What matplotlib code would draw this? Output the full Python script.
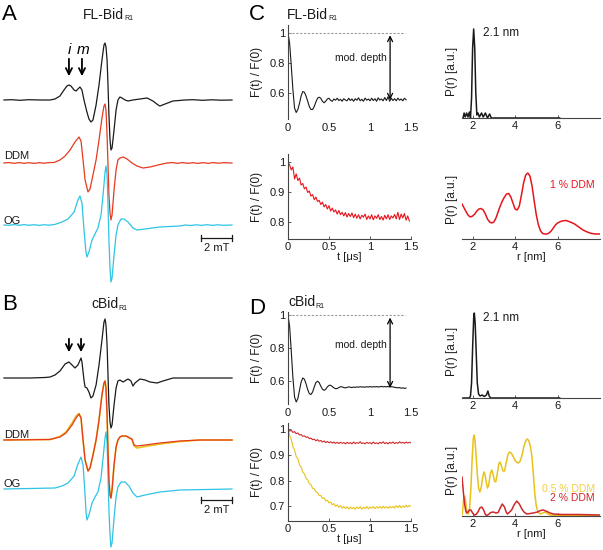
import numpy as np
import matplotlib
matplotlib.use('Agg')
import matplotlib.pyplot as plt

plt.rcParams['font.family'] = ['Liberation Sans', 'DejaVu Sans']

# ---------------- data: cw-EPR spectra (field in mT, amplitude a.u.) ----------------
fl_black = [(0.00,0),(0.50,0.3),(1.03,-0.3),(1.60,0.3),(2.32,0),(2.97,0),(3.29,1),(3.61,4),(3.87,10),
            (4.06,14),(4.19,15),(4.32,14),(4.52,10),(4.65,9),(4.77,11),(4.90,13),(5.03,10),(5.16,0),
            (5.35,-12),(5.48,-19),(5.61,-22),(5.74,-20),(5.94,-5),(6.13,15),(6.32,40),(6.45,55),
            (6.52,57),(6.58,53),(6.65,40),(6.71,15),(6.77,-15),(6.84,-40),(6.90,-50),(6.97,-48),
            (7.10,-30),(7.23,-10),(7.35,0),(7.48,3),(7.61,2),(7.81,0),(8.00,-1),(8.32,0),(8.77,1),
            (9.23,2),(9.61,-1),(9.94,-5),(10.06,-6),(10.39,-4),(10.90,-1),(11.68,0),(12.20,0.3),
            (12.80,-0.3),(13.40,0.2),(14.00,-0.2),(14.71,0)]
fl_ddm = [(0.00,0),(0.32,0.4),(0.65,-0.3),(0.97,0.4),(1.29,-0.3),(1.61,0.3),(1.94,-0.4),(2.26,0.3),
          (2.58,-0.2),(2.90,0.4),(3.23,0.5),(3.61,3),(3.94,7),(4.26,13),(4.58,21),(4.84,26),(4.97,22),
          (5.10,3),(5.23,-17),(5.42,-29),(5.55,-26),(5.74,-12),(5.94,3),(6.13,23),(6.32,45),(6.45,57),
          (6.52,59),(6.58,53),(6.65,28),(6.71,-2),(6.77,-32),(6.84,-50),(6.90,-57),(6.97,-52),
          (7.10,-27),(7.23,-7),(7.35,3),(7.48,5),(7.68,6),(7.94,4),(8.26,0),(8.58,-3),(8.97,-5),
          (9.42,-4),(9.94,-2),(10.52,0),(10.85,0.4),(11.20,-0.3),(11.50,0.4),(11.85,-0.3),
          (12.20,0.3),(12.50,-0.4),(12.85,0.3),(13.20,-0.3),(13.50,0.4),(13.85,-0.2),(14.20,0.3),(14.71,0)]
fl_og = [(0.00,0),(0.32,-0.3),(0.65,0.4),(0.97,-0.3),(1.29,0.4),(1.61,-0.3),(1.94,0.3),(2.26,-0.4),
         (2.58,0.3),(2.90,-0.2),(3.29,0.6),(3.74,3),(4.13,6),(4.52,13),(4.77,25),(4.90,29),(5.03,22),
         (5.16,-5),(5.29,-27),(5.35,-32),(5.48,-27),(5.68,-15),(5.87,-9),(6.06,-3),(6.26,10),(6.39,30),
         (6.52,53),(6.58,59),(6.65,50),(6.71,20),(6.77,-15),(6.84,-43),(6.90,-57),(6.97,-53),
         (7.10,-30),(7.23,-10),(7.35,0),(7.55,6),(7.74,6),(8.00,3),(8.32,-3),(8.58,-5),(9.10,-4),
         (10.06,-2),(10.70,-1.5),(11.35,-1),(11.70,0),(12.05,-0.5),(12.40,0.2),(12.75,-0.4),
         (13.10,0.3),(13.45,-0.4),(13.80,0.2),(14.15,-0.3),(14.71,0)]
cb_black = [(0.00,0),(1.68,0),(2.65,0.5),(2.97,1),(3.29,3),(3.61,7),(3.94,14),(4.19,16),(4.39,13),
            (4.58,10),(4.77,13),(4.97,20),(5.03,16),(5.16,-2),(5.23,-9),(5.35,-10),(5.48,-14),
            (5.61,-20),(5.74,-18),(5.94,-7),(6.13,13),(6.32,38),(6.45,56),(6.52,59),(6.58,53),
            (6.65,33),(6.71,3),(6.77,-27),(6.84,-44),(6.90,-50),(6.97,-47),(7.10,-27),(7.23,-10),
            (7.35,-3),(7.48,-2),(7.68,-4),(8.00,-1),(8.19,-3),(8.32,-8),(8.45,-5),(8.77,-1),
            (9.10,-2),(9.42,-4),(9.87,-5),(10.26,-3),(10.90,0),(14.71,0)]
cb_ddm2 = [(0.00,0),(2.97,0.5),(3.61,3),(4.00,7),(4.39,15),(4.65,22),(4.84,26),(4.97,22),(5.10,0),
           (5.23,-20),(5.42,-31),(5.55,-28),(5.74,-15),(5.94,0),(6.13,20),(6.32,45),(6.45,57),
           (6.52,59),(6.58,52),(6.65,25),(6.71,-10),(6.77,-40),(6.84,-55),(6.90,-58),(6.97,-50),
           (7.10,-25),(7.23,-7),(7.35,0),(7.48,3),(7.61,4),(7.87,4),(8.13,2),(8.26,1),(8.39,-5),
           (8.58,-6),(9.10,-5),(10.06,-3),(11.35,-1),(12.65,0),(14.71,0)]
cb_ddm05 = [(0.00,0),(2.97,0.5),(3.61,3.5),(4.00,8),(4.39,17),(4.65,24),(4.84,26.5),(4.97,22),(5.10,0),
            (5.23,-20),(5.42,-31),(5.55,-28),(5.74,-15),(5.94,0),(6.13,20),(6.32,45),(6.45,57),
            (6.52,59),(6.58,52),(6.65,25),(6.71,-10),(6.77,-40),(6.84,-55),(6.90,-58),(6.97,-50),
            (7.10,-25),(7.23,-7),(7.35,0),(7.48,3),(7.61,4),(7.87,4),(8.13,1.5),(8.26,0),(8.39,-6),
            (8.58,-8),(9.10,-6.5),(10.06,-4),(11.35,-1.5),(12.65,0),(14.71,0)]
cb_og = [(0.00,0),(3.29,1),(3.74,3),(4.13,6),(4.52,13),(4.77,25),(4.97,32),(5.10,24),(5.23,-6),
         (5.29,-23),(5.35,-31),(5.48,-26),(5.68,-14),(5.87,-8),(6.06,-3),(6.26,11),(6.39,31),
         (6.52,51),(6.58,57),(6.65,47),(6.71,14),(6.77,-21),(6.84,-46),(6.90,-58),(6.97,-54),
         (7.10,-29),(7.23,-8),(7.35,2),(7.55,7),(7.81,7),(8.06,3),(8.32,-4),(8.58,-8),(9.10,-6),
         (10.06,-3),(11.35,-1),(14.71,0)]

# ---------------- data: DEER time traces F(t)/F(0) ----------------
t_fl_top = np.round(np.arange(0, 1.441, 0.02), 2)
F_fl_top = [1.000,0.930,0.780,0.620,0.500,0.470,0.490,0.530,0.580,0.610,
            0.605,0.580,0.545,0.510,0.490,0.490,0.510,0.540,0.565,0.572,
            0.565,0.545,0.535,0.545,0.560,0.565,0.550,0.545,0.560,0.552,
            0.565,0.550,0.558,0.545,0.562,0.553,0.548,0.565,0.550,0.560,
            0.545,0.562,0.552,0.568,0.548,0.558,0.545,0.566,0.552,0.560,
            0.548,0.565,0.550,0.562,0.545,0.568,0.553,0.560,0.548,0.570,
            0.550,0.575,0.545,0.565,0.550,0.562,0.548,0.566,0.552,0.560,
            0.548,0.565,0.555]
t_fl_ddm = np.round(np.arange(0, 1.481, 0.02), 2)
F_fl_ddm = [1.000,0.992,0.975,0.985,0.945,0.962,0.940,0.948,0.925,0.930,
            0.912,0.918,0.900,0.905,0.888,0.893,0.876,0.885,0.870,0.874,
            0.860,0.868,0.852,0.860,0.845,0.856,0.838,0.848,0.835,0.842,
            0.828,0.840,0.826,0.834,0.822,0.833,0.818,0.830,0.820,0.832,
            0.816,0.828,0.814,0.826,0.812,0.824,0.818,0.828,0.810,0.822,
            0.812,0.826,0.809,0.822,0.814,0.826,0.810,0.820,0.808,0.824,
            0.812,0.826,0.810,0.822,0.815,0.827,0.812,0.834,0.810,0.828,
            0.815,0.830,0.808,0.822,0.805]
t_cb_top = np.round(np.arange(0, 1.441, 0.02), 2)
F_cb_top = [1.000,0.930,0.780,0.620,0.505,0.475,0.495,0.545,0.595,0.620,
            0.612,0.585,0.550,0.525,0.520,0.535,0.565,0.592,0.600,0.592,
            0.570,0.552,0.545,0.552,0.566,0.575,0.576,0.568,0.560,0.555,
            0.556,0.562,0.567,0.566,0.562,0.560,0.563,0.566,0.564,0.562,
            0.565,0.563,0.566,0.564,0.567,0.565,0.566,0.564,0.567,0.565,
            0.568,0.565,0.567,0.566,0.568,0.565,0.567,0.569,0.566,0.568,
            0.566,0.569,0.565,0.567,0.566,0.563,0.562,0.560,0.562,0.558,
            0.560,0.557,0.559]
t_cb_ddm = np.round(np.arange(0, 1.501, 0.02), 2)
F_cb_ddm2 = [0.995,0.990,0.993,0.985,0.988,0.980,0.983,0.975,0.977,0.970,
             0.972,0.966,0.968,0.961,0.963,0.957,0.959,0.953,0.957,0.951,
             0.954,0.948,0.952,0.946,0.950,0.945,0.949,0.944,0.948,0.943,
             0.947,0.942,0.947,0.943,0.946,0.941,0.947,0.942,0.946,0.941,
             0.948,0.942,0.946,0.943,0.949,0.942,0.945,0.941,0.947,0.943,
             0.946,0.941,0.948,0.942,0.945,0.941,0.947,0.943,0.949,0.942,
             0.946,0.941,0.947,0.943,0.948,0.942,0.946,0.943,0.949,0.944,
             0.947,0.943,0.948,0.944,0.947,0.945]
F_cb_ddm05 = [1.000,0.972,0.958,0.930,0.918,0.892,0.884,0.860,0.852,0.832,
              0.826,0.808,0.803,0.788,0.784,0.770,0.768,0.756,0.754,0.742,
              0.743,0.731,0.733,0.722,0.724,0.714,0.717,0.707,0.711,0.701,
              0.706,0.697,0.703,0.694,0.700,0.692,0.699,0.690,0.698,0.691,
              0.697,0.689,0.698,0.692,0.699,0.690,0.697,0.692,0.700,0.691,
              0.698,0.693,0.700,0.692,0.699,0.694,0.700,0.693,0.701,0.694,
              0.699,0.693,0.701,0.695,0.700,0.694,0.703,0.696,0.704,0.695,
              0.702,0.697,0.705,0.698,0.704,0.701]

# ---------------- data: distance distributions P(r) (r in nm, a.u.) ----------------
P_fl_top = [(1.55,0),(1.60,5),(1.65,1),(1.72,5),(1.78,1),(1.85,6),(1.90,0),(1.95,20),(2.00,70),
            (2.05,89),(2.10,70),(2.15,25),(2.20,3),(2.25,5),(2.32,1),(2.42,5),(2.50,1),(2.60,5),
            (2.70,0),(2.80,4),(2.88,0),(3.00,0),(6.10,0)]
P_fl_ddm = [(1.5,35),(1.6,31),(1.7,27),(1.8,23.5),(1.9,22),(2.0,23),(2.1,25),(2.2,28),(2.3,30),
            (2.4,30.5),(2.5,29),(2.6,25),(2.7,20),(2.8,17),(2.9,16),(3.0,17),(3.1,21),(3.2,27),
            (3.3,33),(3.4,38),(3.5,42),(3.6,45),(3.7,45.5),(3.8,42),(3.9,36),(4.0,30),(4.1,29),
            (4.2,33),(4.3,44),(4.4,56),(4.5,64),(4.6,66),(4.7,63),(4.8,53),(4.9,38),(5.0,24),
            (5.1,14),(5.2,8),(5.3,5.5),(5.4,5),(5.5,5),(5.6,6),(5.7,8),(5.8,11),(5.9,14),(6.0,16),
            (6.2,18),(6.4,18.5),(6.6,17),(6.8,15),(7.0,12),(7.2,9),(7.4,7),(7.6,5.5),(7.8,5),(8.0,5)]
P_cb_top = [(1.55,0),(1.85,0),(1.90,2),(1.95,15),(2.00,50),(2.05,80),(2.08,85),(2.12,75),(2.17,45),
            (2.22,15),(2.28,4),(2.35,2),(2.45,3),(2.55,1.5),(2.65,3),(2.72,7),(2.78,2),(2.85,0),(6.10,0)]
P_cb_ddm05 = [(1.50,1),(1.54,8),(1.58,17),(1.62,20),(1.66,17),(1.70,8),(1.74,3),(1.80,2),(1.86,8),
              (1.92,28),(1.98,58),(2.03,77),(2.07,81),(2.11,76),(2.16,62),(2.22,42),(2.28,28),
              (2.34,24),(2.40,28),(2.47,38),(2.53,44),(2.58,42),(2.64,34),(2.70,28),(2.76,31),
              (2.83,42),(2.90,46),(2.96,42),(3.03,35),(3.09,34),(3.16,42),(3.23,52),(3.29,54),
              (3.36,50),(3.43,45),(3.50,45),(3.58,53),(3.66,61),(3.73,64),(3.82,63),(3.92,59),
              (4.02,55),(4.12,53),(4.22,54),(4.32,60),(4.42,70),(4.52,76),(4.58,77),(4.65,75),
              (4.72,70),(4.79,60),(4.86,42),(4.93,22),(5.00,10),(5.08,4),(5.18,2),(5.30,3),
              (5.41,4),(5.52,2.5),(5.65,1),(6.00,0.5),(8.00,0)]
P_cb_ddm2 = [(1.50,39),(1.54,30),(1.58,20),(1.63,11),(1.68,5),(1.72,3),(1.78,4),(1.85,6),(1.92,6),
             (2.00,3),(2.08,1),(2.16,1.5),(2.25,4),(2.34,8),(2.43,9),(2.52,6),(2.60,1.5),(2.66,0.5),
             (2.75,1.5),(2.85,3.5),(2.98,4),(3.10,3),(3.20,3.5),(3.30,8),(3.40,12),(3.50,9),(3.58,4),
             (3.64,2),(3.72,3.5),(3.84,6),(3.95,11),(4.08,15),(4.20,12),(4.32,7),(4.42,4),(4.55,2),
             (4.70,2.5),(4.86,3),(5.05,4),(5.20,5.5),(5.33,6),(5.50,4.5),(5.65,3),(5.80,2),(6.20,1.5),
             (7.00,1.5),(8.00,1)]

# ---------------- styling ----------------
W, H = 603, 550
fig = plt.figure(figsize=(W / 100, H / 100), dpi=100)
fig.patch.set_facecolor('white')

BLACK = '#1a1a1a'
RED_EPR = '#e63a1e'
RED = '#e8141c'
RED_D = '#d0272b'
YEL = '#e8c21a'
YEL_T = '#f2cf48'
CYAN = '#2ec4e6'
SPINE = '#444444'


def rect(x0, y0, x1, y1):
    return [x0 / W, 1 - y1 / H, (x1 - x0) / W, (y1 - y0) / H]


def ftext(x, y, s, **kw):
    return fig.text(x / W, 1 - y / H, s, **kw)


def sub_title(x, y, main, sub, size=10):
    t = ftext(x, y, main, fontsize=size, va='center', ha='left', color=BLACK)
    fig.canvas.draw()
    bb = t.get_window_extent()
    fig.text((bb.x1 + 0.5) / W, 1 - (y + 4) / H, sub, fontsize=5, va='center', ha='left', color=BLACK)


# ---------------- panels A and B: cw EPR ----------------
ax_e = fig.add_axes(rect(0, 0, 240, 550))
ax_e.set_xlim(-4 / 15.5, 236 / 15.5)
ax_e.set_ylim(550, 0)
ax_e.axis('off')


def epr(data, base, color, lw=0.9, z=2):
    d = np.array(data, dtype=float)
    ax_e.plot(d[:, 0], base - d[:, 1], color=color, lw=lw, zorder=z)


epr(fl_black, 100, BLACK)
epr(fl_ddm, 163, RED_EPR)
epr(fl_og, 225, CYAN)
epr(cb_black, 378, BLACK)
epr(cb_ddm05, 440, YEL, lw=1.2, z=2)
epr(cb_ddm2, 440, RED_EPR, z=3)
epr(cb_og, 489, CYAN)

for fpos in (4.19, 5.03):
    ax_e.annotate('', xy=(fpos, 79), xytext=(fpos, 56),
                  arrowprops=dict(arrowstyle='->', lw=1.3, color='k', mutation_scale=11))
for fpos in (4.19, 4.97):
    ax_e.annotate('', xy=(fpos, 355), xytext=(fpos, 336),
                  arrowprops=dict(arrowstyle='->', lw=1.3, color='k', mutation_scale=11))
ax_e.text(4.19, 50, 'i', fontsize=11, style='italic', ha='center', va='center')
ax_e.text(5.10, 50, 'm', fontsize=11, style='italic', ha='center', va='center')

for ybar in (238, 500):
    ax_e.plot([12.71, 14.71], [ybar, ybar], color=BLACK, lw=0.9)
    ax_e.plot([12.71, 12.71], [ybar - 3, ybar + 3], color=BLACK, lw=0.9)
    ax_e.plot([14.71, 14.71], [ybar - 3, ybar + 3], color=BLACK, lw=0.9)
    ax_e.text(13.71, ybar + 10, '2 mT', fontsize=8, ha='center', va='center', color=BLACK)

for (lbl, y) in (('DDM', 156), ('OG', 221), ('DDM', 435), ('OG', 484)):
    ax_e.text(0.0, y, lbl, fontsize=8, ha='left', va='center', color=BLACK)

ftext(2, 15, 'A', fontsize=16, va='center', ha='left')
ftext(2, 305, 'B', fontsize=16, va='center', ha='left')
ftext(249, 15, 'C', fontsize=16, va='center', ha='left')
ftext(249, 308, 'D', fontsize=16, va='center', ha='left')


# ---------------- DEER panels ----------------
def style_ft(ax, ylo, yhi, yticks, ylabels, bottom_spine=True):
    ax.set_xlim(0, 1.5)
    ax.set_ylim(ylo, yhi)
    for s in ('top', 'right'):
        ax.spines[s].set_visible(False)
    for s in ('left', 'bottom'):
        ax.spines[s].set_color(SPINE)
        ax.spines[s].set_linewidth(0.8)
    ax.set_xticks([0, 0.5, 1, 1.5])
    ax.set_xticklabels(['0', '0.5', '1', '1.5'])
    ax.set_yticks(yticks)
    ax.set_yticklabels(ylabels)
    ax.tick_params(direction='in', length=2, width=0.6, labelsize=8, pad=2, colors=SPINE,
                   labelcolor=BLACK)
    if not bottom_spine:
        ax.spines['bottom'].set_visible(False)
        ax.tick_params(axis='x', length=0, pad=3)
    ax.set_ylabel('F(t) / F(0)', fontsize=8.5, color=BLACK)
    ax.yaxis.set_label_coords(-25 / 123, 0.5)
    ax.patch.set_alpha(0)


def style_pr(ax, h):
    ax.set_xlim(1.5, 8.0)
    ax.set_ylim(0, h)
    for s in ('top', 'right', 'left'):
        ax.spines[s].set_visible(False)
    ax.spines['bottom'].set_color(SPINE)
    ax.spines['bottom'].set_linewidth(0.8)
    ax.set_xticks([2, 4, 6])
    ax.set_yticks([])
    ax.tick_params(direction='in', length=2, width=0.6, labelsize=8, pad=2, colors=SPINE,
                   labelcolor=BLACK)
    ax.set_ylabel('P(r) [a.u.]', fontsize=8.5, color=BLACK)
    ax.yaxis.set_label_coords(-4 / 138, 0.5)
    ax.patch.set_alpha(0)


# C top
ax = fig.add_axes(rect(288, 25, 411, 119))
style_ft(ax, 0.4267, 1.0533, [0.6, 0.8, 1.0], ['0.6', '0.8', '1'], bottom_spine=False)
ax.hlines(1.0, 0, 1.43, colors='#9a9a9a', linestyles=(0, (2, 1.5)), lw=0.8)
ax.plot(t_fl_top, F_fl_top, color=BLACK, lw=0.8)
ax.annotate('', xy=(1.245, 0.555), xytext=(1.245, 0.985),
            arrowprops=dict(arrowstyle='<->', lw=0.9, color='k', mutation_scale=9, shrinkA=0, shrinkB=0))
ax.text(0.89, 0.833, 'mod. depth', fontsize=7.5, ha='center', va='center', color=BLACK)
sub_title(287, 15, 'FL-Bid', 'R1')
sub_title(83, 15, 'FL-Bid', 'R1')

# C bottom
ax = fig.add_axes(rect(288, 154, 411, 239))
style_ft(ax, 0.745, 1.0283, [0.8, 0.9, 1.0], ['0.8', '0.9', '1'])
ax.plot(t_fl_ddm, F_fl_ddm, color=RED, lw=0.8)
ax.set_xlabel('t [μs]', fontsize=8, labelpad=0, color=BLACK)

# D top
ax = fig.add_axes(rect(288, 312, 411, 404))
style_ft(ax, 0.4625, 1.01875, [0.6, 0.8, 1.0], ['0.6', '0.8', '1'], bottom_spine=False)
ax.hlines(1.0, 0, 1.43, colors='#9a9a9a', linestyles=(0, (2, 1.5)), lw=0.8)
ax.plot(t_cb_top, F_cb_top, color=BLACK, lw=0.8)
ax.annotate('', xy=(1.245, 0.56), xytext=(1.245, 0.985),
            arrowprops=dict(arrowstyle='<->', lw=0.9, color='k', mutation_scale=9, shrinkA=0, shrinkB=0))
ax.text(0.89, 0.82, 'mod. depth', fontsize=7.5, ha='center', va='center', color=BLACK)
sub_title(288, 302, 'cBid', 'R1')
sub_title(91, 304, 'cBid', 'R1')

# D bottom
ax = fig.add_axes(rect(288, 423, 411, 521))
style_ft(ax, 0.6442, 1.0212, [0.7, 0.8, 0.9, 1.0], ['0.7', '0.8', '0.9', '1'])
ax.plot(t_cb_ddm, F_cb_ddm05, color=YEL, lw=0.8)
ax.plot(t_cb_ddm, F_cb_ddm2, color=RED_D, lw=0.8)
ax.set_xlabel('t [μs]', fontsize=8, labelpad=0, color=BLACK)

# P(r) panels
ax = fig.add_axes(rect(462, 25, 600, 118))
style_pr(ax, 93)
d = np.array(P_fl_top)
ax.plot(d[:, 0], d[:, 1], color=BLACK, lw=1.1)
ftext(483, 33, '2.1 nm', fontsize=8.5, va='center', ha='left', color=BLACK)

ax = fig.add_axes(rect(462, 160, 600, 239))
style_pr(ax, 79)
d = np.array(P_fl_ddm)
ax.plot(d[:, 0], d[:, 1], color=RED, lw=1.1)
ax.set_xlabel('r [nm]', fontsize=8, labelpad=0, color=BLACK)
ftext(595, 185, '1 % DDM', fontsize=7.5, va='center', ha='right', color=RED)

ax = fig.add_axes(rect(462, 305, 600, 398))
style_pr(ax, 93)
d = np.array(P_cb_top)
ax.plot(d[:, 0], d[:, 1], color=BLACK, lw=1.1)
ftext(483, 318, '2.1 nm', fontsize=8.5, va='center', ha='left', color=BLACK)

ax = fig.add_axes(rect(462, 425, 600, 516))
style_pr(ax, 91)
d = np.array(P_cb_ddm05)
ax.plot(d[:, 0], d[:, 1], color=YEL, lw=1.1)
d = np.array(P_cb_ddm2)
ax.plot(d[:, 0], d[:, 1], color=RED_D, lw=1.1)
ax.set_xlabel('r [nm]', fontsize=8, labelpad=0, color=BLACK)
ftext(595, 489, '0.5 % DDM', fontsize=7.5, va='center', ha='right', color=YEL_T)
ftext(595, 498, '2 % DDM', fontsize=7.5, va='center', ha='right', color=RED_D)

fig.savefig('out.png', dpi=100)
